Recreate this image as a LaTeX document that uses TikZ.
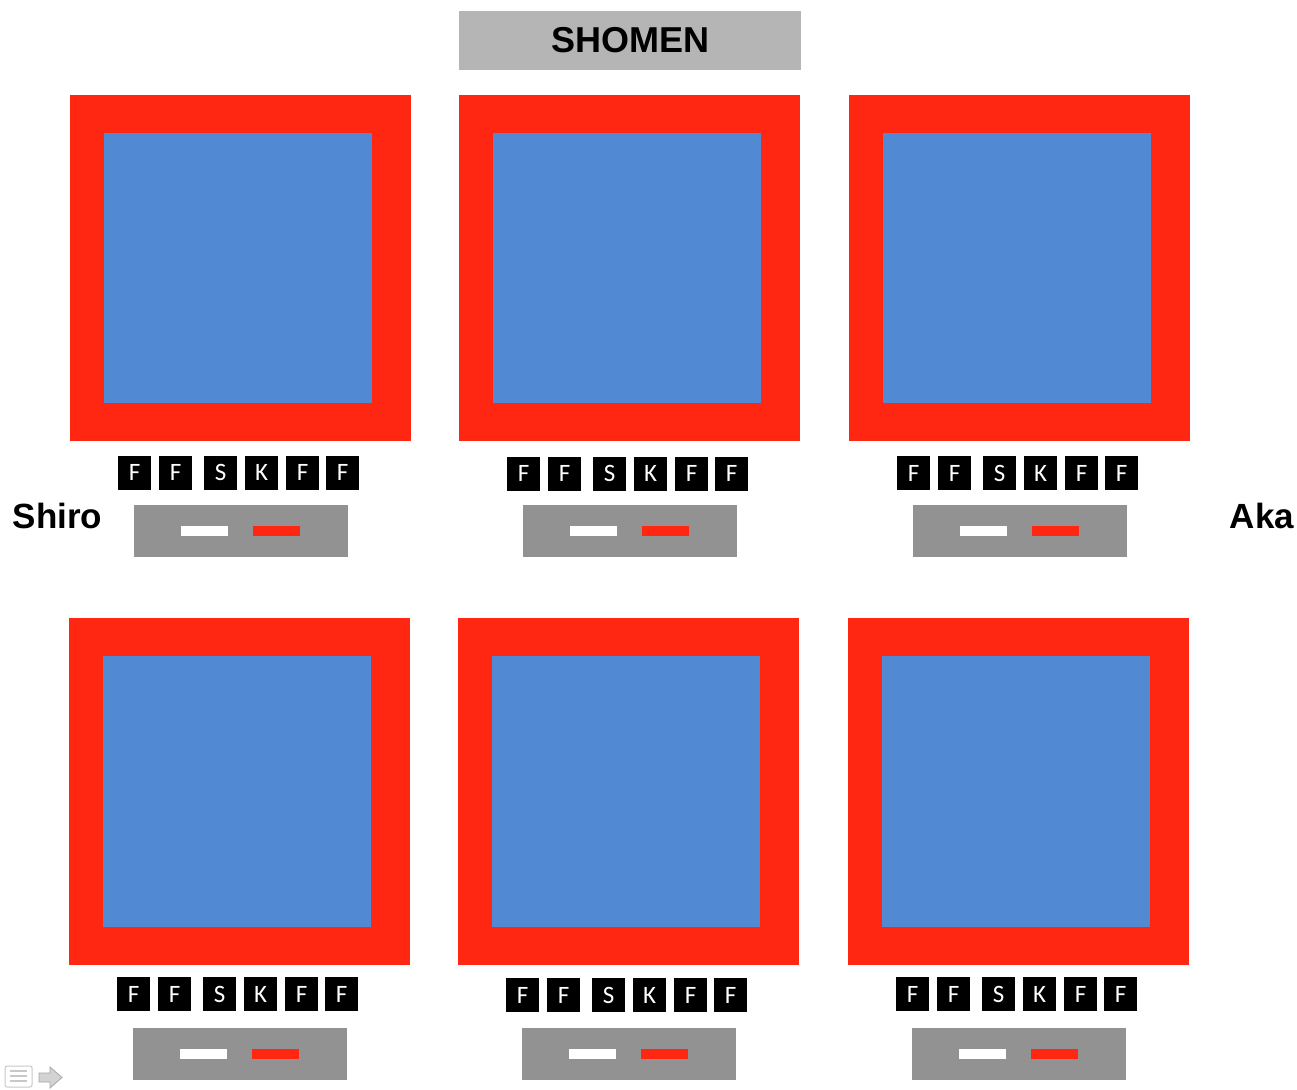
\documentclass[tikz,border=0pt]{standalone}
\usepackage{fontspec}
\setmainfont{Liberation Sans}
\newfontfamily\boxfont{Carlito}
\definecolor{matred}{RGB}{255,38,18}
\definecolor{matblue}{RGB}{82,137,211}
\definecolor{bargray}{RGB}{146,146,146}
\definecolor{titlegray}{RGB}{181,181,181}
\definecolor{icongray}{RGB}{200,200,200}
\begin{document}
\begin{tikzpicture}[x=1pt,y=-1pt,
  outer/.style={fill=matred,inner sep=0pt,outer sep=0pt,anchor=north west,minimum width=341pt},
  inner/.style={fill=matblue,inner sep=0pt,outer sep=0pt,anchor=north west,minimum width=268pt},
  letter/.style={fill=black,text=white,inner sep=0pt,outer sep=0pt,minimum width=33pt,minimum height=34pt,font=\boxfont\fontsize{25}{25}\selectfont},
  scorebar/.style={fill=bargray,inner sep=0pt,outer sep=0pt,minimum width=214pt,minimum height=52pt},
  flag/.style={inner sep=0pt,outer sep=0pt,minimum width=47pt,minimum height=10pt},
  side/.style={font=\bfseries\fontsize{35}{35}\selectfont,inner sep=0pt,anchor=base}]
\useasboundingbox (0,0) rectangle (1297,1089);
\fill[white] (0,0) rectangle (1297,1089);
% title
\node[fill=titlegray,inner sep=0pt,minimum width=342pt,minimum height=59pt,font=\bfseries\fontsize{36}{36}\selectfont] (shomen) at (630,40.5) {SHOMEN};
% courts
\foreach \L/\T/\H/\h/\n in {70/95/346/270/a,459/95/346/270/b,849/95/346/270/c,69/618/347/271/d,458/618/347/271/e,848/618/347/271/f}{
  \node[outer,minimum height=\H pt] (court\n) at (\L,\T) {};
  \node[inner,minimum height=\h pt] (mat\n) at (\L+34,\T+38) {};
}
% judges' letters and score bars
\foreach \cx/\ly/\by/\n in {240.5/472.5/531/a,629.5/473.5/531/b,1019.5/473/531/c,239.5/994/1054/d,628.5/995/1054/e,1018.5/994/1054/f}{
  \foreach \dx/\t/\k in {-106/F/1,-65/F/2,-20/S/3,21/K/4,62/F/5,102/F/6}{
    \node[letter] (l\n\k) at (\cx+\dx,\ly) {\t};
  }
  \node[scorebar] (bar\n) at (\cx,\by) {};
  \node[flag,fill=white] (w\n) at (\cx-36,\by) {};
  \node[flag,fill=matred] (r\n) at (\cx+36,\by) {};
}
% side labels
\node[side] (shiro) at (57.5,528) {Shiro};
\node[side] (aka) at (1262,528) {Aka};
% small icons
\node[draw=icongray,fill=white,rounded corners=2pt,line width=1pt,minimum width=27pt,minimum height=21pt,inner sep=0pt] (noteicon) at (18.5,1076.5) {};
\foreach \yy in {1071,1076,1081}{\draw[icongray,line width=1.3pt] (10,\yy) -- (27,\yy);}
\draw[fill=icongray!80,draw=gray!70,line width=0.8pt] (39,1073) -- (50,1073) -- (50,1067) -- (62,1077.5) -- (50,1088) -- (50,1082) -- (39,1082) -- cycle;
\end{tikzpicture}
\end{document}
